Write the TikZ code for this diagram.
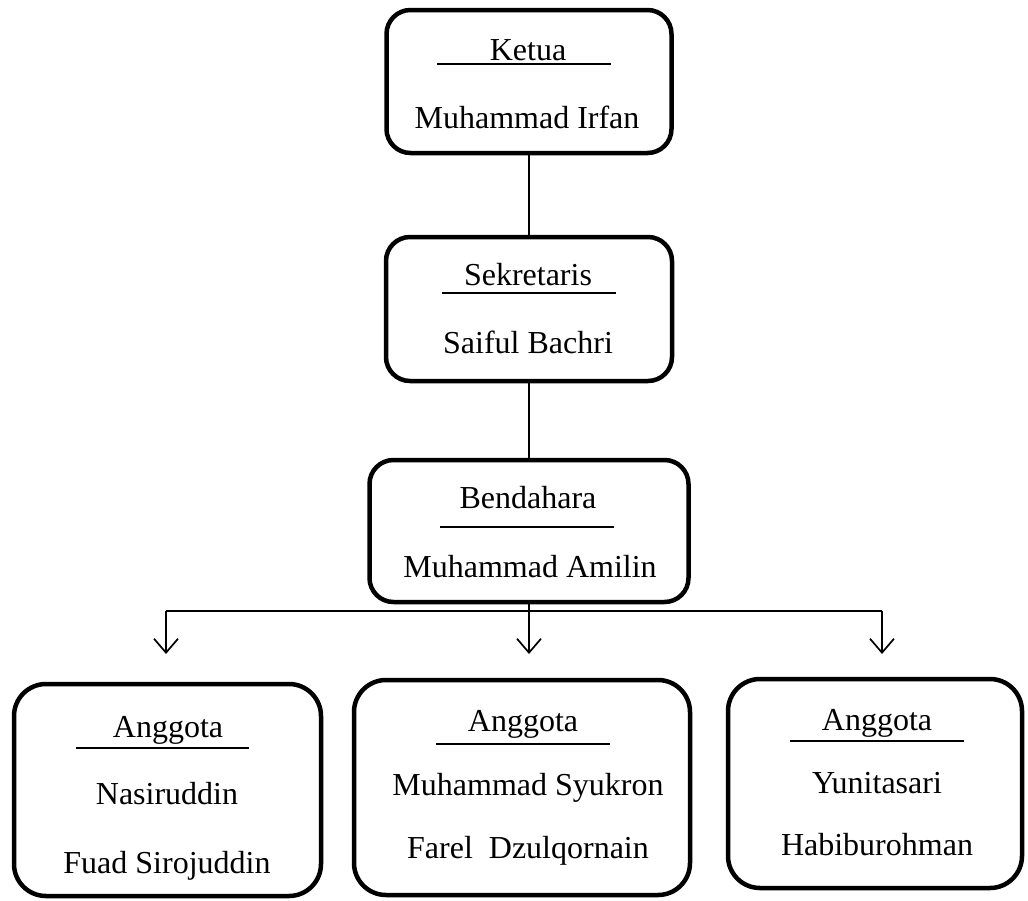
\documentclass[tikz,border=0pt]{standalone}
\usepackage{fontspec}
\setmainfont{Liberation Serif}
\usepackage{tikz}
\usetikzlibrary{arrows.meta}

\begin{document}
\begin{tikzpicture}[x=1pt,y=-1pt,
    box/.style={draw,line width=4.5pt,rounded corners=24pt,inner sep=0pt},
    txt/.style={anchor=base,inner sep=0pt,font=\fontsize{32}{38}\selectfont},
    uline/.style={line width=1.8pt},
    link/.style={line width=1.7pt},
    down/.style={link,-{Straight Barb[length=14pt,width=24pt,line width=1.7pt]}}]
  \useasboundingbox (0,0) rectangle (1028,900);

  % kotak
  \node (ketua) [box,minimum width=285pt,minimum height=143pt] at (529,81.5) {};
  \node (sekre) [box,minimum width=286pt,minimum height=144pt] at (529,309) {};
  \node (benda) [box,minimum width=319pt,minimum height=142pt] at (529,531) {};
  \node (angg1) [box,minimum width=307pt,minimum height=212pt,rounded corners=32pt] at (167.5,790) {};
  \node (angg2) [box,minimum width=336pt,minimum height=215pt,rounded corners=32pt] at (522,787.5) {};
  \node (angg3) [box,minimum width=294pt,minimum height=209pt,rounded corners=32pt] at (875,783.5) {};

  % isi
  \node (t-ketua) [txt] at (528,60) {Ketua};
  \draw[uline] (437,64) -- (611,64);
  \node (n-ketua) [txt] at (527,128) {Muhammad Irfan};

  \node (t-sekre) [txt] at (528,285) {Sekretaris};
  \draw[uline] (442,293) -- (616,293);
  \node (n-sekre) [txt] at (528,353) {Saiful Bachri};

  \node (t-benda) [txt] at (528,508) {Bendahara};
  \draw[uline] (440,527) -- (614,527);
  \node (n-benda) [txt] at (530,577) {Muhammad Amilin};

  \node (t-angg1) [txt] at (168,737) {Anggota};
  \draw[uline] (76,748) -- (249,748);
  \node (n-angg1a) [txt] at (167,804) {Nasiruddin};
  \node (n-angg1b) [txt] at (167,873) {Fuad Sirojuddin};

  \node (t-angg2) [txt] at (523,731) {Anggota};
  \draw[uline] (436,744) -- (610,744);
  \node (n-angg2a) [txt] at (528,795) {Muhammad Syukron};
  \node (n-angg2b) [txt] at (528,858) {Farel\ \ Dzulqornain};

  \node (t-angg3) [txt] at (877,730) {Anggota};
  \draw[uline] (790,741) -- (964,741);
  \node (n-angg3a) [txt] at (877,793) {Yunitasari};
  \node (n-angg3b) [txt] at (877,855) {Habiburohman};

  % garis
  \coordinate (cab) at (529,611);
  \coordinate (cab1) at (166,611);
  \coordinate (cab3) at (882,611);
  \coordinate (ujung1) at (166,654);
  \coordinate (ujung2) at (529,654);
  \coordinate (ujung3) at (882,654);

  \draw[link] (ketua.south) -- (sekre.north);
  \draw[link] (sekre.south) -- (benda.north);
  \draw[link] (benda.south) -- (cab);
  \draw[link] (cab1) -- (cab3);
  \draw[down] (cab1) -- (ujung1);
  \draw[down] (cab) -- (ujung2);
  \draw[down] (cab3) -- (ujung3);
\end{tikzpicture}
\end{document}
